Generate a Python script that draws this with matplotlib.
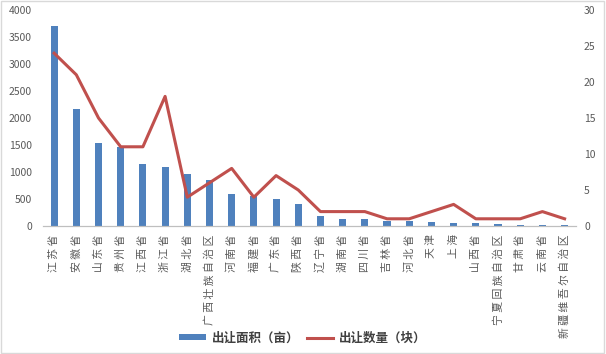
import matplotlib
matplotlib.use('Agg')
import matplotlib.pyplot as plt
from matplotlib.patches import Rectangle

plt.rcParams['font.family'] = ['Noto Sans CJK SC', 'DejaVu Sans']

# 省份
provinces = ['江苏省', '安徽省', '山东省', '贵州省', '江西省', '浙江省', '湖北省',
             '广西壮族自治区', '河南省', '福建省', '广东省', '陕西省', '辽宁省',
             '湖南省', '四川省', '吉林省', '河北省', '天津', '上海', '山西省',
             '宁夏回族自治区', '甘肃省', '云南省', '新疆维吾尔自治区']
# 出让面积（亩）
area = [3710, 2170, 1540, 1470, 1140, 1100, 970, 855, 600, 560, 500, 410,
        185, 130, 130, 98, 98, 80, 56, 56, 37, 18, 18, 18]
# 出让数量（块）
count = [24, 21, 15, 11, 11, 18, 4, 6, 8, 4, 7, 5, 2, 2, 2, 1, 1, 2, 3,
         1, 1, 1, 2, 1]

grey = '#595959'
fig = plt.figure(figsize=(6.06, 3.54), dpi=100)
ax = fig.add_axes([0.071, 0.3616, 0.879, 0.6102])
ax2 = ax.twinx()

x = list(range(len(provinces)))
b = ax.bar(x, area, width=0.32, color='#4F81BD', label='出让面积（亩）', zorder=2)
l, = ax2.plot(x, count, color='#C0504D', lw=2.2, label='出让数量（块）', zorder=3)

ax.set_xlim(-0.5, len(provinces) - 0.5)
ax.set_ylim(0, 4000)
ax2.set_ylim(0, 30)
ax.set_yticks(range(0, 4001, 500))
ax2.set_yticks(range(0, 31, 5))

for a in (ax, ax2):
    for s in ('top', 'left', 'right'):
        a.spines[s].set_visible(False)
    a.spines['bottom'].set_color('#BFBFBF')
    a.tick_params(length=0, labelsize=7.5, colors=grey)

# 竖排标签：字与字之间留空
ax.set_xticks(x)
ax.set_xticklabels([' '.join(p) for p in provinces], rotation=90,
                   fontsize=7.8, color=grey, va='top', ha='center')
ax.tick_params(axis='x', pad=6)
ax.tick_params(axis='y', pad=8)
ax2.tick_params(axis='y', pad=6)

fig.legend([b, l], ['出让面积（亩）', '出让数量（块）'], loc='center',
           bbox_to_anchor=(0.5, 0.045), ncol=2, frameon=False,
           prop={'size': 9, 'weight': 'bold'}, handlelength=2.1,
           handleheight=0.45, handletextpad=0.5, columnspacing=0.6,
           labelcolor='#404040')

fig.patches.append(Rectangle((0.002, 0.003), 0.995, 0.994, transform=fig.transFigure,
                             fill=False, edgecolor='#D9D9D9', lw=1))

fig.savefig('out.png', dpi=100)
